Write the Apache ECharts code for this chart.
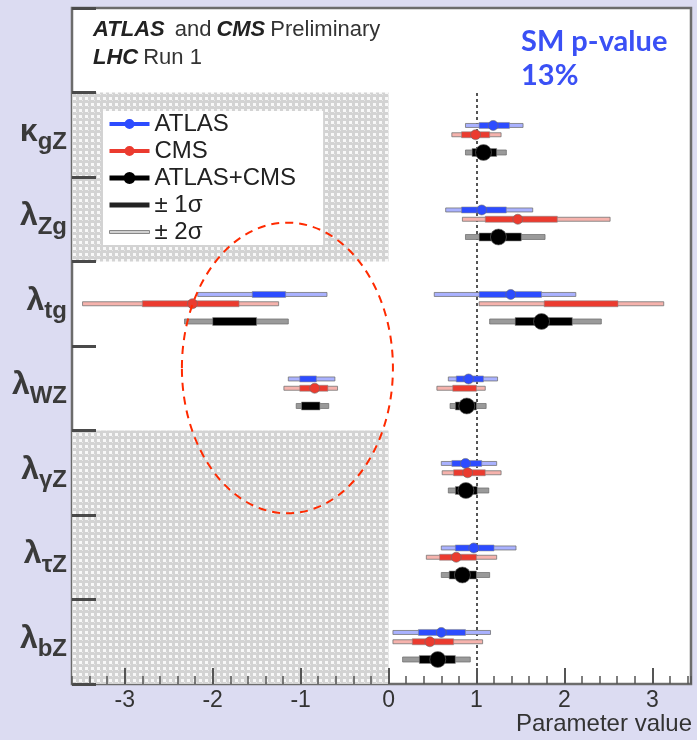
<!DOCTYPE html>
<html>
<head>
<meta charset="utf-8">
<script src="https://cdn.jsdelivr.net/npm/echarts@6/dist/echarts.min.js"></script>
<style>
  html, body { margin: 0; padding: 0; background: #dcdcf2; }
  #chart { width: 697px; height: 740px; }
</style>
</head>
<body>
<div id="chart"></div>
<script>
// Coupling-ratio parameters, listed bottom to top
const paramMain = ['λ', 'λ', 'λ', 'λ', 'λ', 'λ', 'κ'];
const paramSub  = ['bZ', 'τZ', 'γZ', 'WZ', 'tg', 'Zg', 'gZ'];

// ATLAS best fit and 1σ / 2σ intervals
const atlasCentral = [0.60, 0.97, 0.875, 0.91, 1.39, 1.06, 1.19];
const atlas1s = [[[0.34, 0.875]], [[0.76, 1.20]], [[0.72, 1.06]], [[-1.01, -0.82], [0.77, 1.08]],
                 [[-1.55, -1.17], [1.03, 1.74]], [[0.83, 1.34]], [[1.03, 1.375]]];
const atlas2s = [[[0.05, 1.16]], [[0.60, 1.45]], [[0.60, 1.23]], [[-1.14, -0.61], [0.68, 1.24]],
                 [[-2.17, -0.70], [0.52, 2.13]], [[0.65, 1.64]], [[0.875, 1.53]]];

// CMS best fit and 1σ / 2σ intervals
const cmsCentral = [0.47, 0.77, 0.90, -0.84, -2.23, 1.47, 0.99];
const cms1s = [[[0.27, 0.74]], [[0.58, 1.00]], [[0.74, 1.10]], [[-1.01, -0.69], [0.73, 1.00]],
               [[-2.80, -1.70], [1.77, 2.61]], [[1.10, 1.92]], [[0.83, 1.15]]];
const cms2s = [[[0.05, 1.07]], [[0.43, 1.23]], [[0.61, 1.28]], [[-1.19, -0.58], [0.55, 1.10]],
               [[-3.48, -1.25], [1.03, 3.13]], [[0.84, 2.52]], [[0.72, 1.28]]];

// ATLAS+CMS combination
const combCentral = [0.56, 0.84, 0.88, 0.89, 1.74, 1.25, 1.08];
const comb1s = [[[0.35, 0.76]], [[0.69, 1.00]], [[0.76, 1.01]], [[-0.99, -0.78], [0.76, 1.00]],
                [[-2.00, -1.50], [1.44, 2.09]], [[1.03, 1.51]], [[0.95, 1.23]]];
const comb2s = [[[0.16, 0.93]], [[0.60, 1.15]], [[0.68, 1.14]], [[-1.05, -0.68], [0.70, 1.11]],
                [[-2.32, -1.14], [1.15, 2.42]], [[0.875, 1.78]], [[0.875, 1.34]]];

const xTickLabels = [-3, -2, -1, 0, 1, 2, 3];
const smLine = 1;                 // Standard Model expectation
const boundedRows = [[5, 7], [0, 3]];   // rows whose parameters are physically bounded at 0
const circledRegion = { x: -1.15, y: 3.74, rx: 1.2, ry: 1.72 };

const FONT = '"Liberation Sans", Arial, Helvetica, sans-serif';

const experiments = [
  { name: 'ATLAS', central: atlasCentral, s1: atlas1s, s2: atlas2s, offset: 0.61,
    c1: '#2d4cff', c2: '#aab2ff', r: 5, h1: 6, h2: 4 },
  { name: 'CMS', central: cmsCentral, s1: cms1s, s2: cms2s, offset: 0.50,
    c1: '#eb3b2f', c2: '#f6b3ad', r: 5, h1: 6, h2: 4 },
  { name: 'ATLAS+CMS', central: combCentral, s1: comb1s, s2: comb2s, offset: 0.29,
    c1: '#000000', c2: '#9a9a9a', r: 8, h1: 8, h2: 5 }
];

function buildRows(exp) {
  const rows = [];
  exp.s2.forEach((ints, k) => ints.forEach(([lo, hi]) => rows.push([k + exp.offset, lo, hi, 2])));
  exp.s1.forEach((ints, k) => ints.forEach(([lo, hi]) => rows.push([k + exp.offset, lo, hi, 1])));
  exp.central.forEach((c, k) => rows.push([k + exp.offset, c, c, 0]));
  return rows;
}

function makeRenderer(exp) {
  return function (params, api) {
    const y = api.value(0), lo = api.value(1), hi = api.value(2), kind = api.value(3);
    const a = api.coord([lo, y]);
    const b = api.coord([hi, y]);
    if (kind === 0) {
      return { type: 'circle', shape: { cx: a[0], cy: a[1], r: exp.r },
               style: { fill: exp.c1, stroke: 'rgba(110,110,110,0.6)', lineWidth: 1 } };
    }
    const h = kind === 1 ? exp.h1 : exp.h2;
    return { type: 'rect', shape: { x: a[0], y: a[1] - h / 2, width: b[0] - a[0], height: h },
             style: kind === 1
               ? { fill: exp.c1, stroke: 'rgba(140,140,140,0.55)', lineWidth: 1 }
               : { fill: exp.c2, stroke: 'rgba(110,110,110,0.75)', lineWidth: 1 } };
  };
}

// Fine texture for the excluded (bounded) region
function hatchPattern() {
  const c = document.createElement('canvas');
  c.width = 6; c.height = 6;
  const g = c.getContext('2d');
  g.fillStyle = '#d3d3d3'; g.fillRect(0, 0, 6, 6);
  g.fillStyle = '#f8f8f8'; g.fillRect(1, 1, 3, 3);
  g.fillStyle = '#e8e8e8'; g.fillRect(4, 4, 1, 1);
  return { image: c, repeat: 'repeat' };
}

const chart = echarts.init(document.getElementById('chart'), null, { renderer: 'canvas' });

const series = experiments.map(exp => ({
  type: 'custom',
  name: exp.name,
  xAxisIndex: 0,
  yAxisIndex: 1,
  z: 5,
  itemStyle: { color: exp.c1 },
  encode: { x: [1, 2], y: 0 },
  data: buildRows(exp),
  renderItem: makeRenderer(exp)
}));

// Background layer: bounded regions and SM reference line
series.unshift({
  type: 'line', name: 'bg', xAxisIndex: 0, yAxisIndex: 1, z: 1, data: [], silent: true,
  markArea: {
    silent: true,
    itemStyle: { color: hatchPattern() },
    data: boundedRows.map(([y0, y1]) => [{ coord: [-3.6, y1] }, { coord: [0, y0] }])
  },
  markLine: {
    silent: true, symbol: 'none', label: { show: false },
    lineStyle: { color: '#555', width: 2, type: [3, 3] },
    data: [[{ coord: [smLine, 0] }, { coord: [smLine, 7] }]]
  }
});
series.push({ type: 'line', name: '± 1σ', data: [], color: '#222' });
series.push({ type: 'line', name: '± 2σ', data: [], color: '#c8c8c8' });

const option = {
  backgroundColor: '#dcdcf2',
  animation: false,
  title: [
    { left: 88, top: 11,
      text: '{b|ATLAS}  {n|and} {b|CMS} {n|Preliminary}\n{b|LHC} {n|Run 1}',
      textStyle: { rich: {
        b: { fontFamily: FONT, fontSize: 22, fontWeight: 'bold', fontStyle: 'italic', color: '#222', lineHeight: 28 },
        n: { fontFamily: FONT, fontSize: 22, fontWeight: 'normal', color: '#333', lineHeight: 28 } } } },
    { left: 516, top: 20, text: 'SM p-value\n13%',
      textStyle: { fontFamily: 'Lato, "Open Sans", sans-serif', fontWeight: 'bold', fontSize: 29,
                   color: '#3a50f5', lineHeight: 34 } }
  ],
  legend: {
    orient: 'vertical', left: 103, top: 111, backgroundColor: '#ffffff',
    padding: [1, 27, 1, 6], itemGap: 3, itemWidth: 40, itemHeight: 12,
    selectedMode: false,
    textStyle: { fontFamily: FONT, fontSize: 24, color: '#222', lineHeight: 24 },
    data: [
      { name: 'ATLAS', icon: 'path://M0,4h40v4h-40z M15,6a5,5 0 1,1 10,0a5,5 0 1,1 -10,0z',
        itemStyle: { color: '#2d4cff' } },
      { name: 'CMS', icon: 'path://M0,4h40v4h-40z M15,6a5,5 0 1,1 10,0a5,5 0 1,1 -10,0z',
        itemStyle: { color: '#eb3b2f' } },
      { name: 'ATLAS+CMS', icon: 'path://M0,3.5h40v5h-40z M14,6a6,6 0 1,1 12,0a6,6 0 1,1 -12,0z',
        itemStyle: { color: '#000' } },
      { name: '± 1σ', icon: 'path://M0,0h40v5h-40z', itemStyle: { color: '#222' } },
      { name: '± 2σ', icon: 'path://M0,0h40v3h-40z',
        itemStyle: { color: '#d0d0d0', borderColor: '#888', borderWidth: 1 } }
    ]
  },
  grid: { left: 72, right: 6, top: 8, bottom: 56, show: true, backgroundColor: '#ffffff',
          borderColor: '#6c6c6c', borderWidth: 2.5, containLabel: false, outerBoundsMode: 'none' },
  xAxis: [
    { type: 'value', min: -3.6, max: 3.44, interval: 0.2, position: 'bottom', z: 10,
      axisLine: { show: false, onZero: false }, splitLine: { show: false },
      axisTick: { inside: true, length: 8, lineStyle: { color: '#555', width: 1.5 } },
      axisLabel: { fontFamily: FONT, fontSize: 23, color: '#333', margin: 5,
        customValues: xTickLabels, formatter: v => String(v) },
      name: 'Parameter value', nameLocation: 'end', nameGap: 1,
      nameTextStyle: { fontFamily: FONT, fontSize: 24, color: '#333', align: 'right',
                       verticalAlign: 'top', padding: [28, 0, 0, 0] } },
    { type: 'value', min: -3.6, max: 3.44, position: 'bottom', z: 10,
      axisLine: { show: false, onZero: false }, splitLine: { show: false }, axisLabel: { show: false },
      axisTick: { inside: true, length: 16, customValues: xTickLabels,
                  lineStyle: { color: '#555', width: 2 } } }
  ],
  yAxis: [
    { type: 'category', position: 'left', boundaryGap: true, z: 10,
      data: paramSub.map((s, i) => paramMain[i] + s).concat(['']),
      axisLine: { show: false, onZero: false }, splitLine: { show: false },
      axisTick: { show: true, inside: true, interval: 0, length: 24,
                  lineStyle: { color: '#4a4a4a', width: 3 } },
      axisLabel: {
        margin: 5, interval: 0,
        formatter: (v, i) => v ? '{m|' + paramMain[i] + '}{s|' + paramSub[i] + '}' : '',
        rich: {
          m: { fontFamily: FONT, fontSize: 32, fontWeight: 'bold', color: '#3a3a3a', padding: [0, 0, 6, 0] },
          s: { fontFamily: FONT, fontSize: 24, fontWeight: 'bold', color: '#3a3a3a', padding: [16, 0, 0, 0] }
        }
      } },
    { type: 'value', min: 0, max: 8, show: false }
  ],
  series: series
};

chart.setOption(option);

// Dashed ellipse around the negative-valued solutions
const ctr = chart.convertToPixel({ xAxisIndex: 0, yAxisIndex: 1 }, [circledRegion.x, circledRegion.y]);
const edge = chart.convertToPixel({ xAxisIndex: 0, yAxisIndex: 1 },
  [circledRegion.x + circledRegion.rx, circledRegion.y + circledRegion.ry]);
chart.setOption({
  graphic: [{
    type: 'ellipse', z: 100, silent: true,
    shape: { cx: ctr[0], cy: ctr[1], rx: edge[0] - ctr[0], ry: ctr[1] - edge[1] },
    style: { fill: 'none', stroke: '#ff2a00', lineWidth: 2, lineDash: [8, 6] }
  }]
});
</script>
</body>
</html>
